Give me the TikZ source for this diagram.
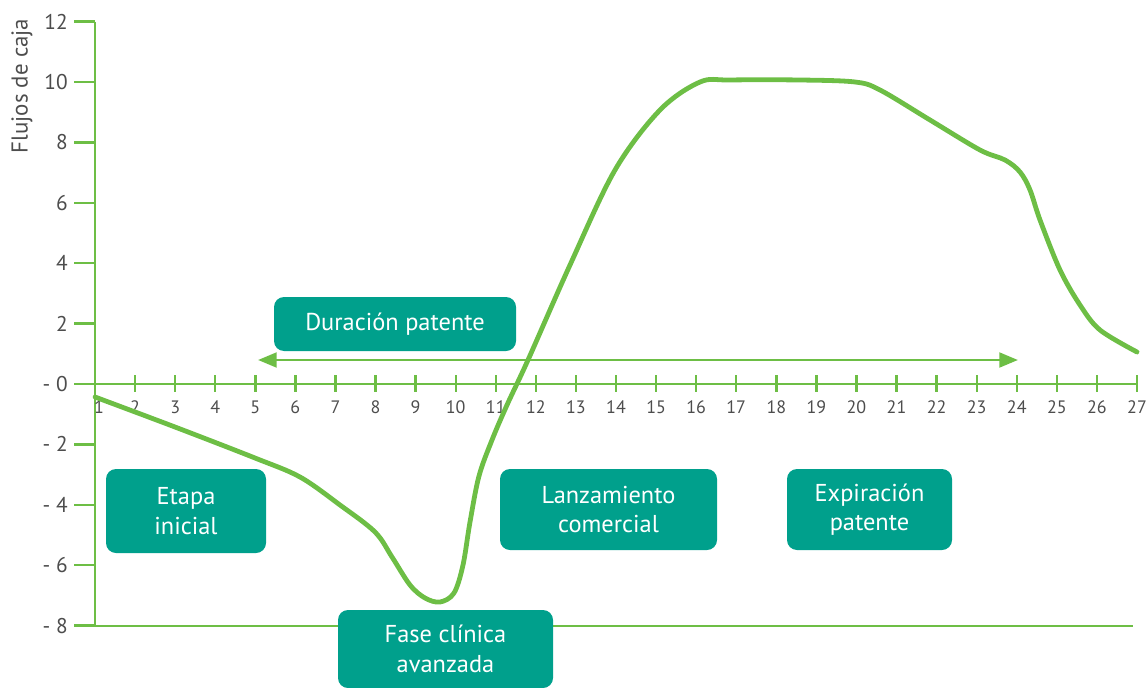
\documentclass[tikz,border=0pt]{standalone}
\usepackage{fontspec}
\setmainfont{PT Sans}
\usetikzlibrary{arrows.meta}
\definecolor{grn}{RGB}{109,190,69}
\definecolor{teal}{RGB}{0,160,140}
\definecolor{txt}{RGB}{77,77,77}
\tikzset{
  phase/.style={fill=teal, rounded corners=7.5pt, text=white, align=center,
    font=\fontsize{18.3}{22}\selectfont, inner sep=0pt},
  axisline/.style={draw=grn, line width=1.8pt},
  ylab/.style={anchor=east, text=txt, font=\fontsize{16}{18}\selectfont, inner sep=0pt},
  xlab/.style={text=txt, font=\fontsize{13.5}{16}\selectfont, inner sep=0pt},
  curve/.style={draw=grn, line width=3.6pt, line cap=round, line join=round},
}
\begin{document}
\begin{tikzpicture}[x=0.75pt, y=-0.75pt]
\useasboundingbox (0,0) rectangle (1148,688);
% y axis
\coordinate (ytop) at (95,22);
\coordinate (ybot) at (95,626);
\draw[axisline] (ytop) -- (ybot);
\foreach \v/\lab in {12/12,10/10,8/8,6/6,4/4,2/2,0/- 0,-2/- 2,-4/- 4,-6/- 6,-8/- 8}{
  \pgfmathsetmacro{\yy}{384-30.2*\v}
  \draw[axisline] (74,\yy) -- (95,\yy);
  \node[ylab] (yl\v) at (68,\yy) {\lab};
}
% bottom line
\coordinate (bl) at (95,626);
\coordinate (br) at (1133,626);
\draw[axisline] (bl) -- (br);
% x axis
\coordinate (xl) at (95,384);
\coordinate (xr) at (1137,384);
\draw[axisline] (xl) -- (xr);
\foreach \n in {2,...,27}{
  \pgfmathsetmacro{\xx}{95+40.077*(\n-1)}
  \draw[axisline] (\xx,375) -- (\xx,392);
  \node[xlab] (xlab\n) at (\xx,407) {\n};
}
\node[xlab] (xlab1) at (99,407) {1};
% y label
\node[rotate=90, text=txt, font=\fontsize{17.2}{20}\selectfont] (ytitle) at (22,86) {Flujos de caja};
% patent arrow
\coordinate (al) at (258,360);
\coordinate (ar) at (1018,360);
\draw[draw=grn, line width=2.2pt, {Triangle[length=14pt,width=11pt]}-{Triangle[length=14pt,width=11pt]}] (al) -- (ar);
% curve
\draw[curve] plot[smooth, tension=0.55] coordinates {
(95,397) (175,427) (255,458) (300,477) (340,505) (375,532) (392,557) (410,585) (425,598) (440,602) (454,593) (463,565) (470,522) (479,476) (492,440) (507,405) (528,360) (570,265) (615,170) (660,110) (700,82) (730,80) (800,80) (855,82) (880,90) (930,120) (980,150) (1005,160) (1020,172) (1030,190) (1040,220) (1060,270) (1080,305) (1100,330) (1137,352)};
% boxes
\node[phase, minimum width=181.5pt, minimum height=40.5pt] (dur) at (395,324) {Duración patente};
\node[phase, minimum width=120pt, minimum height=63pt] (eta) at (186,511) {Etapa\\inicial};
\node[phase, minimum width=161.25pt, minimum height=58.5pt] (fase) at (445.5,649) {Fase clínica\\avanzada};
\node[phase, minimum width=162.75pt, minimum height=60.75pt] (lan) at (608.5,509.5) {Lanzamiento\\comercial};
\node[phase, minimum width=123.75pt, minimum height=60.75pt] (exp) at (869.5,509.5) {Expiración\\patente};
\end{tikzpicture}
\end{document}
